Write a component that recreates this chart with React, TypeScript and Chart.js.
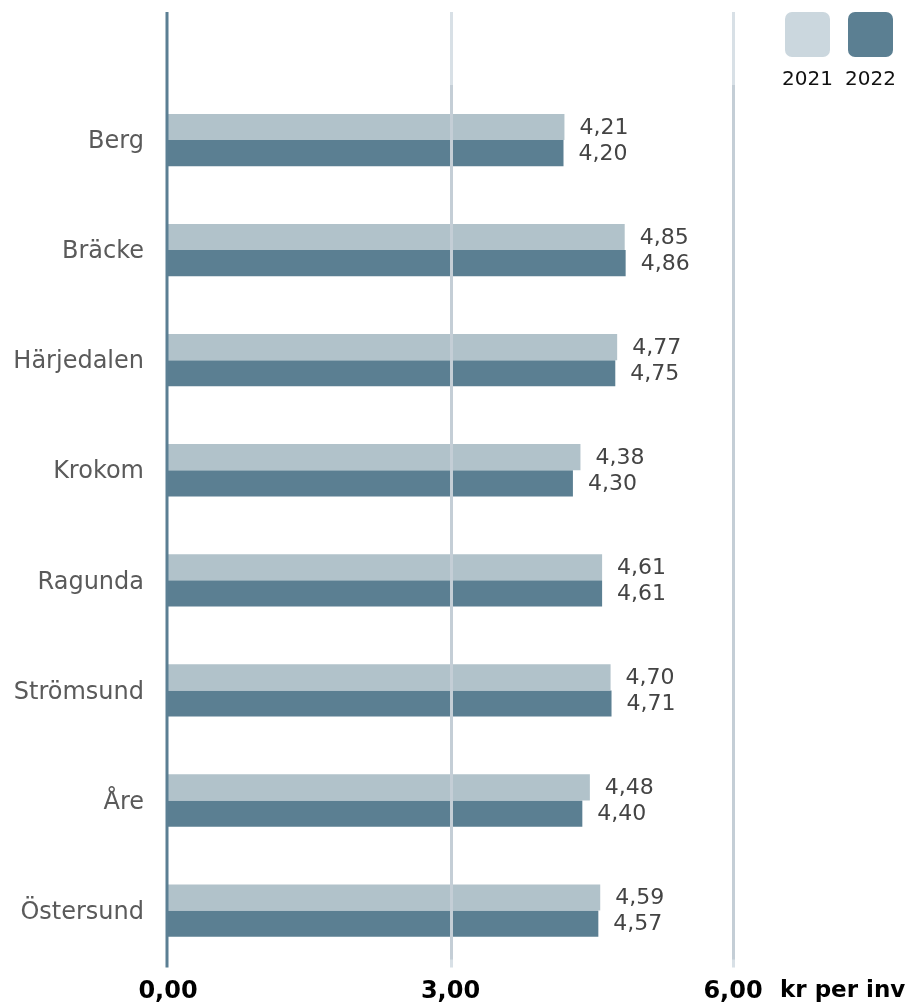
import React, { useEffect, useRef } from "react";
import { Chart, registerables } from "chart.js";

Chart.register(...registerables);

const categories = ["Berg", "Bräcke", "Härjedalen", "Krokom", "Ragunda", "Strömsund", "Åre", "Östersund"];
const values2021 = [4.21, 4.85, 4.77, 4.38, 4.61, 4.70, 4.48, 4.59];
const values2022 = [4.20, 4.86, 4.75, 4.30, 4.61, 4.71, 4.40, 4.57];
const seriesLabels = ["2021", "2022"];
const xTicks = [0, 3, 6];
const unitLabel = "kr per inv";

const fmt = (v: number) => v.toFixed(2).replace(".", ",");

const FONT = "'DejaVu Sans', Verdana, sans-serif";

export default function App() {
  const ref = useRef<HTMLCanvasElement | null>(null);

  useEffect(() => {
    if (!ref.current) return;
    const overlay = {
      id: "overlay",
      afterDatasetsDraw(chart: any) {
        const ctx = chart.ctx;
        const { top, bottom } = chart.chartArea;
        const xs = chart.scales.x;
        ctx.save();
        // grid lines
        xTicks.forEach((t) => {
          if (t === 0) return;
          const x = Math.round(xs.getPixelForValue(t)) + 0.5;
          ctx.lineWidth = 3;
          ctx.strokeStyle = "#d8e0e6";
          ctx.beginPath();
          ctx.moveTo(x, 12);
          ctx.lineTo(x, bottom + 2);
          ctx.stroke();
          ctx.strokeStyle = "rgba(150,165,178,0.3)";
          ctx.beginPath();
          ctx.moveTo(x, top);
          ctx.lineTo(x, bottom - 6);
          ctx.stroke();
        });
        // axis line
        const x0 = xs.getPixelForValue(0) - 1;
        ctx.lineWidth = 3;
        ctx.strokeStyle = "#5b7f93";
        ctx.beginPath();
        ctx.moveTo(x0, 12);
        ctx.lineTo(x0, bottom + 2);
        ctx.stroke();
        // value labels
        ctx.font = `22px ${FONT}`;
        ctx.fillStyle = "#444444";
        ctx.textAlign = "left";
        ctx.textBaseline = "middle";
        chart.data.datasets.forEach((ds: any, di: number) => {
          const meta = chart.getDatasetMeta(di);
          meta.data.forEach((bar: any, i: number) => {
            ctx.fillText(fmt(ds.data[i]), bar.x + 15, bar.y + 1);
          });
        });
        // unit label
        ctx.font = `bold 23px ${FONT}`;
        ctx.fillStyle = "#000";
        ctx.textAlign = "left";
        ctx.textBaseline = "middle";
        ctx.fillText(unitLabel, 780, 991);
        // legend
        const colors = ["#cbd7de", "#5b7f92"];
        const lx = [785, 848];
        seriesLabels.forEach((lab, i) => {
          ctx.fillStyle = colors[i];
          ctx.beginPath();
          (ctx as any).roundRect(lx[i], 12, 45, 45, 7);
          ctx.fill();
          ctx.fillStyle = "#111";
          ctx.font = `20px ${FONT}`;
          ctx.textAlign = "center";
          ctx.textBaseline = "middle";
          ctx.fillText(lab, lx[i] + 22.5, 80);
        });
        ctx.restore();
      },
    };

    const chart = new Chart(ref.current, {
      type: "bar",
      data: {
        labels: categories,
        datasets: [
          { label: seriesLabels[0], data: values2021, backgroundColor: "#b1c2ca" },
          { label: seriesLabels[1], data: values2022, backgroundColor: "#5b7f92" },
        ],
      },
      options: {
        indexAxis: "y",
        animation: false,
        responsive: false,
        maintainAspectRatio: false,
        layout: { padding: { top: 85, right: 182, left: 0, bottom: 0 } },
        datasets: { bar: { categoryPercentage: 0.475, barPercentage: 1 } } as any,
        plugins: { legend: { display: false }, tooltip: { enabled: false } },
        scales: {
          x: {
            min: 0,
            max: 6,
            afterBuildTicks: (s: any) => {
              s.ticks = xTicks.map((v) => ({ value: v }));
            },
            afterFit: (s: any) => {
              s.height = 38;
            },
            grid: { display: false, drawTicks: false },
            border: { display: false },
            ticks: {
              callback: (v: any) => fmt(Number(v)),
              font: { family: FONT, size: 24, weight: "bold" },
              color: "#000",
              padding: 12,
              maxRotation: 0,
            },
          },
          y: {
            afterFit: (s: any) => {
              s.width = 168;
            },
            grid: { display: false, drawTicks: false },
            border: { display: false },
            ticks: {
              font: { family: FONT, size: 24 },
              color: "#5a5a5a",
              padding: 24,
              labelOffset: 2,
            },
          },
        },
      },
      plugins: [overlay],
    } as any);
    return () => chart.destroy();
  }, []);

  return (
    <div style={{ position: "absolute", left: 0, top: 0, width: 915, height: 1004, background: "#fff" }}>
      <canvas ref={ref} width={915} height={1004} style={{ display: "block" }} />
    </div>
  );
}
